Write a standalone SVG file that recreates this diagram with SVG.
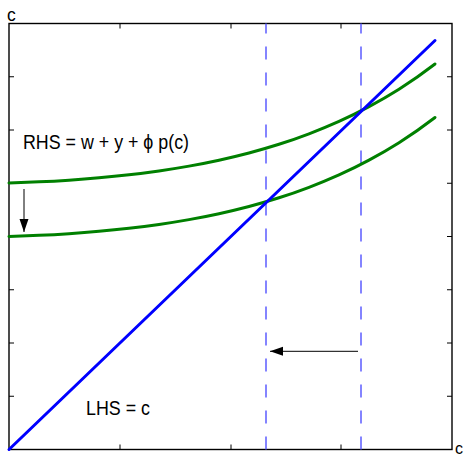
<svg xmlns="http://www.w3.org/2000/svg" width="465" height="459" viewBox="0 0 465 459">
<style>
.ax{fill:none;stroke:#000;stroke-width:1.4}
.tk{stroke:#000;stroke-width:1}
.gr{fill:none;stroke:#008000;stroke-width:3;stroke-linejoin:round;stroke-linecap:round}
.bl{fill:none;stroke:#0000ff;stroke-width:3;stroke-linecap:round}
.ds{fill:none;stroke:#5c5cff;stroke-width:1.5;stroke-dasharray:13 13}
.ar{fill:none;stroke:#000;stroke-width:1}
.lb{font-family:"Liberation Sans",Arial,sans-serif;fill:#000}
</style>
<defs>
<marker id="ah" markerUnits="userSpaceOnUse" markerWidth="14" markerHeight="10" refX="13" refY="4.5" orient="auto">
<path d="M0,0 L13,4.5 L0,9 Z" fill="#000"/>
</marker>
</defs>
<rect width="465" height="459" fill="#fff"/>
<g id="axes">
<rect class="ax" x="9" y="23.5" width="443" height="426"/>
<path class="tk" d="M120,23.5v5M231,23.5v5M341,23.5v5M120,449.5v-5M231,449.5v-5M341,449.5v-5M9,76.75h5M9,130h5M9,183.25h5M9,236.5h5M9,289.75h5M9,343h5M9,396.25h5M452,76.75h-5M452,130h-5M452,183.25h-5M452,236.5h-5M452,289.75h-5M452,343h-5M452,396.25h-5"/>
<text class="lb" x="7" y="20.5" font-size="17.5">c</text>
<text class="lb" x="455" y="454" font-size="16">c</text>
</g>
<g id="guides">
<line class="ds" x1="266" y1="449.5" x2="266" y2="23.5"/>
<line class="ds" x1="361" y1="449.5" x2="361" y2="23.5"/>
</g>
<g id="rhs-upper">
<path class="gr" d="M9,183 C19,182.7 29,182.32 39,181.85 C49,181.38 59,180.82 69,180.16 C79,179.5 89,178.74 99,177.85 C109,176.96 119,175.96 129,174.82 C139,173.68 149,172.4 159,170.96 C169,169.52 179,167.91 189,166.13 C199,164.35 209,162.38 219,160.2 C229,158.02 239,155.64 249,153 C259,150.36 269,147.48 279,144.3 C289,141.12 299,137.6 309,133.8 C319,130 329,125.91 339,121.4 C349,116.89 359,111.95 369,106.6 C379,101.25 389,95.52 399,89.2 C411,81.61 423,73.24 435,64"/>
</g>
<g id="rhs-lower">
<path class="gr" d="M9,236.5 C19,236.2 29,235.82 39,235.35 C49,234.88 59,234.32 69,233.66 C79,233 89,232.24 99,231.35 C109,230.46 119,229.46 129,228.32 C139,227.18 149,225.9 159,224.46 C169,223.02 179,221.41 189,219.63 C199,217.85 209,215.88 219,213.7 C229,211.52 239,209.14 249,206.5 C259,203.86 269,200.98 279,197.8 C289,194.62 299,191.1 309,187.3 C319,183.5 329,179.41 339,174.9 C349,170.39 359,165.45 369,160.1 C379,154.75 389,149.02 399,142.7 C411,135.11 423,126.74 435,117.5"/>
</g>
<g id="lhs">
<line class="bl" x1="9" y1="449.5" x2="435" y2="40.5"/>
</g>
<g id="labels">
<text class="lb" x="23" y="149.3" font-size="19.5" textLength="166" lengthAdjust="spacingAndGlyphs">RHS = w + y + ϕ p(c)</text>
<text class="lb" x="86" y="415" font-size="19.5" textLength="64" lengthAdjust="spacingAndGlyphs">LHS = c</text>
</g>
<g id="connectors">
<line class="ar" x1="24" y1="189" x2="24" y2="232" marker-end="url(#ah)"/>
<line class="ar" x1="358" y1="351.3" x2="270" y2="351.3" marker-end="url(#ah)"/>
</g>
</svg>
